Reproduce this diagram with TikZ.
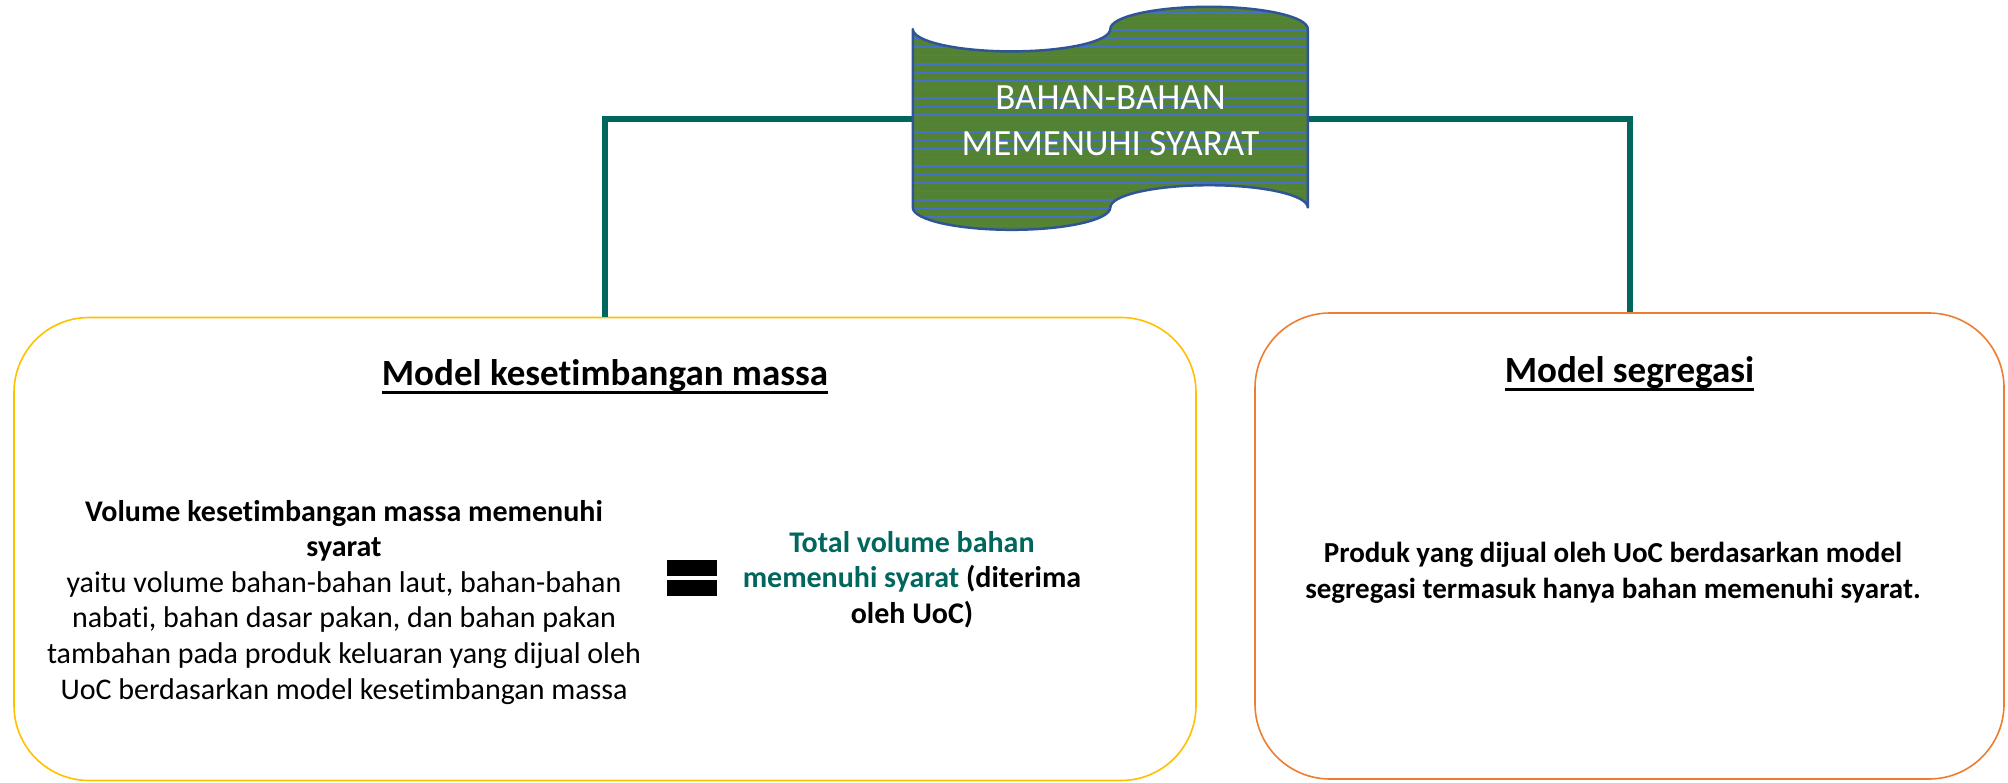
\documentclass[tikz,border=0pt]{standalone}
\usepackage{fontspec}
\setmainfont{Carlito}[Ligatures=NoCommon]
\usetikzlibrary{calc}
\definecolor{tealline}{RGB}{0,102,94}
\definecolor{scrollgreen}{RGB}{84,130,53}
\definecolor{stripeblue}{RGB}{68,114,196}
\definecolor{scrollborder}{RGB}{47,85,151}
\definecolor{boxyellow}{RGB}{255,192,0}
\definecolor{boxorange}{RGB}{237,125,49}
\newcommand\thickul[1]{\setbox0\hbox{#1}\rlap{\rule[-9pt]{\wd0}{2.8pt}}\box0}
\begin{document}
\begin{tikzpicture}[x=1pt,y=1pt,
  conn/.style={draw=tealline, line width=6pt},
  modelbox/.style={rectangle, rounded corners=75pt, line width=1.6pt, inner sep=0pt},
  boxtitle/.style={anchor=base, inner sep=0pt, font=\fontsize{37}{44}\selectfont\bfseries},
  bodytext/.style={anchor=base, inner sep=0pt, align=center},
  eqbar/.style={rectangle, fill=black, minimum width=50pt, minimum height=16pt, inner sep=0pt},
  scrolltext/.style={anchor=base, inner sep=0pt, align=center, text=white, font=\fontsize{37}{46}\selectfont}
]
\useasboundingbox (0,0) rectangle (2008,-782);

% boxes
\node[modelbox, draw=boxyellow, minimum width=1182pt, minimum height=463pt] (boxL) at (605,-549) {};
\node[modelbox, draw=boxorange, minimum width=749pt, minimum height=466pt] (boxR) at (1629.5,-546) {};

% scroll node (placeholder for anchors)
\node[rectangle, inner sep=0pt, minimum width=395pt, minimum height=223pt] (scroll) at (1110.5,-118.5) {};

% connectors
\draw[conn] (scroll.west) -| (boxL.north);
\draw[conn] (scroll.east) -| (boxR.north);

% punched tape shape
\begin{scope}[shift={(scroll.north west)}]
  \def\w{395}\def\h{223}\def\rx{98.75}\def\ry{22.3}
  \path[fill=scrollgreen] (0,-\ry) arc[start angle=180, end angle=360, x radius=\rx, y radius=\ry]
     arc[start angle=180, end angle=0, x radius=\rx, y radius=\ry]
     -- (\w,-\h+\ry)
     arc[start angle=0, end angle=180, x radius=\rx, y radius=\ry]
     arc[start angle=0, end angle=-180, x radius=\rx, y radius=\ry] -- cycle;
  \begin{scope}
    \clip (0,-\ry) arc[start angle=180, end angle=360, x radius=\rx, y radius=\ry]
     arc[start angle=180, end angle=0, x radius=\rx, y radius=\ry]
     -- (\w,-\h+\ry)
     arc[start angle=0, end angle=180, x radius=\rx, y radius=\ry]
     arc[start angle=0, end angle=-180, x radius=\rx, y radius=\ry] -- cycle;
    \foreach \k in {0,...,27} {
      \draw[stripeblue, line width=1.8pt] (-5,{-6.2-8.5*\k}) -- (\w+5,{-6.2-8.5*\k});
    }
  \end{scope}
  \draw[scrollborder, line width=2.5pt, line join=round] (0,-\ry) arc[start angle=180, end angle=360, x radius=\rx, y radius=\ry]
     arc[start angle=180, end angle=0, x radius=\rx, y radius=\ry]
     -- (\w,-\h+\ry)
     arc[start angle=0, end angle=180, x radius=\rx, y radius=\ry]
     arc[start angle=0, end angle=-180, x radius=\rx, y radius=\ry] -- cycle;
\end{scope}
\node[scrolltext] (scrolllabel) at (1110.5,-155) {BAHAN-BAHAN\\MEMENUHI SYARAT};

% titles
\node[boxtitle] (titleL) at (605,-385) {\thickul{Model kesetimbangan massa}};
\node[boxtitle] (titleR) at (1629.5,-382) {\thickul{Model segregasi}};

% left body
\node[bodytext, font=\fontsize{30}{35.6}\selectfont] (volL) at (344,-699)
  {\textbf{Volume kesetimbangan massa memenuhi}\\\textbf{syarat}\\yaitu volume bahan-bahan laut, bahan-bahan\\nabati, bahan dasar pakan, dan bahan pakan\\tambahan pada produk keluaran yang dijual oleh\\UoC berdasarkan model kesetimbangan massa};

% equals sign
\node[eqbar] (eqtop) at (692,-568) {};
\node[eqbar] (eqbot) at (692,-588) {};

% total volume
\node[bodytext, font=\fontsize{30}{35.5}\selectfont\bfseries] (total) at (912,-623)
  {\textcolor{tealline}{Total volume bahan}\\\textcolor{tealline}{memenuhi syarat} (diterima\\oleh UoC)};

% right body
\node[bodytext, font=\fontsize{29}{35.5}\selectfont\bfseries] (prodR) at (1613,-598)
  {Produk yang dijual oleh UoC berdasarkan model\\segregasi termasuk hanya bahan memenuhi syarat.};
\end{tikzpicture}
\end{document}
